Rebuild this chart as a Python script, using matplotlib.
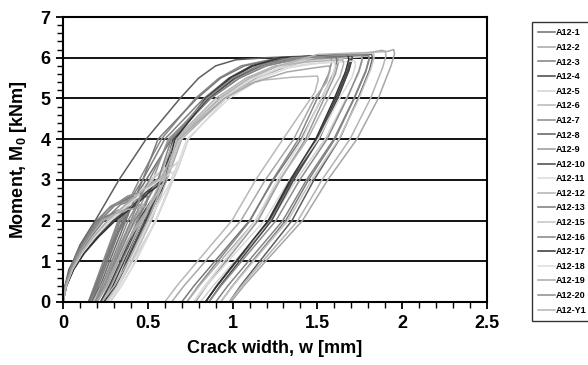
import matplotlib
matplotlib.use("Agg")
import matplotlib.pyplot as plt
from matplotlib.ticker import MultipleLocator

plt.rcParams['font.family'] = ['Liberation Sans', 'DejaVu Sans']
plt.rcParams['font.weight'] = 'bold'
plt.rcParams['mathtext.fontset'] = 'custom'
plt.rcParams['mathtext.bf'] = 'Liberation Sans:bold'
plt.rcParams['mathtext.rm'] = 'Liberation Sans:bold'

# crack width w [mm] / moment M0 [kNm], one pair per test
w_a12_1 = [0, .015, .045, .09, .15, .22, .31, .42, .41, .355, .263, .208, .17, .22, .275, .37, .43, .49,
           .64, .86, 1.02, 1.17, 1.35, 1.6, 1.70, 1.705, 1.685, 1.618, 1.506, 1.352, 1.218, 1.024, .909, .84]
m_a12_1 = [0, .4, .8, 1.2, 1.6, 2.0, 2.4, 2.6, 2.4, 2.0, 1.0, .4, 0, .4, 1.0, 2.0, 2.6, 3.0,
           4.0, 5.0, 5.5, 5.8, 5.98, 6.05, 6.08, 5.98, 5.68, 5.0, 4.0, 3.0, 2.0, 1.0, .4, 0]

w_a12_2 = [0, .018, .054, .108, .18, .264, .372, .47, .55, .62, .61, .487, .376, .306, .25, .324, .405, .52, .63,
           .70, .95, 1.14, 1.33, 1.55, 1.8, 1.88, 1.91, 1.95, 1.955, 1.934, 1.859, 1.733, 1.561, 1.412, 1.195, 1.067, .99]
m_a12_2 = [0, .4, .8, 1.2, 1.6, 2.0, 2.4, 2.75, 3.0, 3.2, 3.0, 2.0, 1.0, .4, 0, .4, 1.0, 2.0, 3.2,
           4.0, 5.0, 5.5, 5.8, 6.05, 6.12, 6.18, 6.15, 6.2, 6.1, 5.8, 5.0, 4.0, 3.0, 2.0, 1.0, .4, 0]

w_a12_3 = [0, .014, .043, .086, .143, .209, .28, .40, .39, .338, .249, .196, .16, .208, .26, .35, .41, .47,
           .60, .83, .98, 1.12, 1.30, 1.6, 1.80, 1.805, 1.785, 1.717, 1.603, 1.448, 1.313, 1.116, 1.0, .93]
m_a12_3 = [0, .4, .8, 1.2, 1.6, 2.0, 2.35, 2.6, 2.4, 2.0, 1.0, .4, 0, .4, 1.0, 2.0, 2.6, 3.0,
           4.0, 5.0, 5.5, 5.8, 5.95, 6.02, 6.05, 5.95, 5.65, 5.0, 4.0, 3.0, 2.0, 1.0, .4, 0]

w_a12_4 = [0, .02, .061, .122, .203, .297, .419, .50, .58, .57, .454, .349, .283, .23, .30, .377, .486, .59,
           .65, .84, .98, 1.11, 1.28, 1.55, 1.69, 1.695, 1.676, 1.609, 1.498, 1.346, 1.214, 1.022, .908, .84]
m_a12_4 = [0, .4, .8, 1.2, 1.6, 2.0, 2.4, 2.7, 2.95, 2.75, 2.0, 1.0, .4, 0, .4, 1.0, 2.0, 2.95,
           4.0, 5.0, 5.5, 5.8, 6.0, 6.05, 6.07, 5.97, 5.67, 5.0, 4.0, 3.0, 2.0, 1.0, .4, 0]

w_a12_5 = [0, .02, .059, .117, .195, .286, .403, .50, .59, .68, .66, .55, .41, .33, .28, .33, .40, .50, .60, .68,
           .74, .96, 1.15, 1.30, 1.5, 1.76, 1.765, 1.744, 1.67, 1.545, 1.375, 1.228, 1.013, .886, .81]
m_a12_5 = [0, .4, .8, 1.2, 1.6, 2.0, 2.4, 2.75, 3.1, 3.45, 3.2, 2.0, 1.0, .4, 0, .3, .8, 1.6, 2.5, 3.3,
           4.0, 5.0, 5.5, 5.8, 5.95, 6.02, 5.92, 5.62, 5.0, 4.0, 3.0, 2.0, 1.0, .4, 0]

w_a12_6 = [0, .017, .05, .099, .165, .242, .34, .47, .46, .354, .273, .215, .18, .25, .31, .40, .48, .57,
           .70, .80, .93, 1.05, 1.18, 1.35, 1.50, 1.505, 1.485, 1.297, 1.136, .996, .793, .672, .6]
m_a12_6 = [0, .4, .8, 1.2, 1.6, 2.0, 2.25, 2.4, 2.2, 1.5, .8, .3, 0, .4, 1.0, 1.8, 2.4, 3.0,
           4.0, 4.5, 5.0, 5.3, 5.45, 5.52, 5.55, 5.45, 5.15, 4.0, 3.0, 2.0, 1.0, .4, 0]

w_a12_7 = [0, .0135, .041, .081, .135, .198, .27, .38, .37, .325, .237, .185, .15, .196, .247, .33, .39, .45,
           .58, .78, .92, 1.05, 1.22, 1.45, 1.58, 1.585, 1.566, 1.499, 1.388, 1.236, 1.104, .912, .798, .73]
m_a12_7 = [0, .4, .8, 1.2, 1.6, 2.0, 2.3, 2.5, 2.3, 2.0, 1.0, .4, 0, .4, 1.0, 2.0, 2.5, 3.0,
           4.0, 5.0, 5.5, 5.8, 5.95, 5.98, 6.0, 5.9, 5.6, 5.0, 4.0, 3.0, 2.0, 1.0, .4, 0]

w_a12_8 = [0, .012, .035, .06, .10, .19, .26, .33, .41, .49, .59, .69, .80, .90, 1.02, 1.2, 1.5, 1.82,
           1.825, 1.806, 1.74, 1.63, 1.48, 1.35, 1.16, 1.047, .98]
m_a12_8 = [0, .4, .8, 1.0, 1.4, 2.0, 2.5, 3.0, 3.5, 4.0, 4.5, 5.0, 5.5, 5.8, 5.95, 6.0, 6.05, 6.08,
           5.98, 5.68, 5.0, 4.0, 3.0, 2.0, 1.0, .4, 0]

w_a12_9 = [0, .015, .045, .09, .15, .22, .32, .45, .44, .346, .273, .22, .19, .245, .30, .38, .46, .53,
           .62, .87, 1.04, 1.19, 1.38, 1.62, 1.625, 1.606, 1.54, 1.43, 1.28, 1.15, .96, .847, .78]
m_a12_9 = [0, .4, .8, 1.2, 1.6, 2.0, 2.25, 2.4, 2.2, 1.5, .8, .3, 0, .4, 1.0, 1.8, 2.4, 3.0,
           4.0, 5.0, 5.5, 5.8, 5.95, 6.0, 5.9, 5.6, 5.0, 4.0, 3.0, 2.0, 1.0, .4, 0]

w_a12_10 = [0, .02, .061, .122, .203, .297, .419, .49, .57, .56, .444, .339, .273, .22, .29, .367, .476, .58,
            .65, .86, 1.01, 1.15, 1.32, 1.55, 1.70, 1.705, 1.686, 1.62, 1.51, 1.36, 1.23, 1.04, .927, .86]
m_a12_10 = [0, .4, .8, 1.2, 1.6, 2.0, 2.4, 2.7, 2.95, 2.75, 2.0, 1.0, .4, 0, .4, 1.0, 2.0, 2.95,
            4.0, 5.0, 5.5, 5.8, 6.0, 6.06, 6.1, 6.0, 5.7, 5.0, 4.0, 3.0, 2.0, 1.0, .4, 0]

w_a12_11 = [0, .019, .056, .113, .188, .275, .388, .47, .54, .60, .59, .466, .363, .308, .26, .328, .403, .508, .61,
            .69, .94, 1.12, 1.28, 1.45, 1.72, 1.725, 1.704, 1.63, 1.505, 1.335, 1.188, .973, .846, .77]
m_a12_11 = [0, .4, .8, 1.2, 1.6, 2.0, 2.4, 2.8, 3.1, 3.3, 3.1, 2.0, 1.0, .4, 0, .4, 1.0, 2.0, 3.3,
            4.0, 5.0, 5.5, 5.75, 5.85, 5.92, 5.82, 5.52, 5.0, 4.0, 3.0, 2.0, 1.0, .4, 0]

w_a12_12 = [0, .016, .047, .095, .158, .231, .34, .46, .45, .356, .283, .23, .2, .255, .31, .39, .47, .56,
            .66, .90, 1.08, 1.25, 1.45, 1.65, 1.655, 1.634, 1.563, 1.442, 1.277, 1.135, .927, .804, .73]
m_a12_12 = [0, .4, .8, 1.2, 1.6, 2.0, 2.2, 2.35, 2.15, 1.5, .8, .3, 0, .4, 1.0, 1.8, 2.35, 3.0,
            4.0, 5.0, 5.5, 5.8, 5.9, 5.95, 5.85, 5.55, 5.0, 4.0, 3.0, 2.0, 1.0, .4, 0]

w_a12_13 = [0, .0135, .041, .081, .135, .198, .28, .39, .38, .299, .229, .18, .15, .20, .25, .33, .40, .47,
            .56, .79, .93, 1.07, 1.25, 1.45, 1.61, 1.615, 1.595, 1.524, 1.404, 1.241, 1.1, .895, .773, .70]
m_a12_13 = [0, .4, .8, 1.2, 1.6, 2.0, 2.15, 2.3, 2.1, 1.5, .8, .3, 0, .4, 1.0, 1.8, 2.3, 3.0,
            4.0, 5.0, 5.5, 5.8, 5.97, 6.0, 6.02, 5.92, 5.62, 5.0, 4.0, 3.0, 2.0, 1.0, .4, 0]

w_a12_15 = [0, .018, .054, .108, .18, .264, .372, .47, .55, .62, .61, .472, .361, .302, .25, .324, .405, .52, .63,
            .69, .92, 1.10, 1.27, 1.5, 1.7, 1.83, 1.835, 1.815, 1.745, 1.627, 1.466, 1.326, 1.123, 1.002, .93]
m_a12_15 = [0, .4, .8, 1.2, 1.6, 2.0, 2.4, 2.75, 3.1, 3.3, 3.1, 2.0, 1.0, .4, 0, .4, 1.0, 2.0, 3.3,
            4.0, 5.0, 5.5, 5.8, 6.02, 6.08, 6.12, 6.02, 5.72, 5.0, 4.0, 3.0, 2.0, 1.0, .4, 0]

w_a12_16 = [0, .017, .05, .099, .165, .242, .341, .50, .49, .422, .311, .245, .2, .26, .326, .44, .51, .56,
            .64, .87, 1.04, 1.2, 1.4, 1.65, 1.80, 1.805, 1.785, 1.715, 1.597, 1.436, 1.296, 1.093, .972, .9]
m_a12_16 = [0, .4, .8, 1.2, 1.6, 2.0, 2.4, 2.6, 2.4, 2.0, 1.0, .4, 0, .4, 1.0, 2.0, 2.6, 3.0,
            4.0, 5.0, 5.5, 5.8, 6.0, 6.05, 6.08, 5.98, 5.68, 5.0, 4.0, 3.0, 2.0, 1.0, .4, 0]

w_a12_17 = [0, .021, .063, .126, .21, .308, .434, .51, .59, .58, .464, .359, .293, .24, .31, .387, .496, .60,
            .66, .85, .99, 1.12, 1.28, 1.52, 1.68, 1.685, 1.666, 1.60, 1.49, 1.34, 1.21, 1.02, .907, .84]
m_a12_17 = [0, .4, .8, 1.2, 1.6, 2.0, 2.4, 2.7, 2.95, 2.75, 2.0, 1.0, .4, 0, .4, 1.0, 2.0, 2.95,
            4.0, 5.0, 5.5, 5.8, 6.0, 6.04, 6.06, 5.96, 5.66, 5.0, 4.0, 3.0, 2.0, 1.0, .4, 0]

w_a12_18 = [0, .019, .056, .113, .188, .275, .388, .49, .57, .65, .64, .508, .392, .327, .27, .346, .43, .547, .66,
            .73, .98, 1.17, 1.33, 1.48, 1.60, 1.605, 1.586, 1.521, 1.412, 1.264, 1.135, .948, .836, .77]
m_a12_18 = [0, .4, .8, 1.2, 1.6, 2.0, 2.4, 2.75, 3.0, 3.2, 3.0, 2.0, 1.0, .4, 0, .4, 1.0, 2.0, 3.2,
            4.0, 5.0, 5.5, 5.75, 5.85, 5.9, 5.8, 5.5, 5.0, 4.0, 3.0, 2.0, 1.0, .4, 0]

w_a12_19 = [0, .016, .047, .095, .158, .231, .35, .50, .49, .38, .296, .236, .2, .26, .326, .42, .51, .58,
            .68, .95, 1.13, 1.32, 1.48, 1.57, 1.575, 1.554, 1.482, 1.36, 1.193, 1.049, .839, .714, .64]
m_a12_19 = [0, .4, .8, 1.2, 1.6, 2.0, 2.25, 2.35, 2.15, 1.5, .8, .3, 0, .4, 1.0, 1.8, 2.35, 3.0,
            4.0, 5.0, 5.4, 5.65, 5.75, 5.8, 5.7, 5.4, 5.0, 4.0, 3.0, 2.0, 1.0, .4, 0]

w_a12_20 = [0, .015, .045, .09, .15, .22, .31, .38, .46, .45, .384, .287, .23, .19, .244, .303, .40, .47, .51,
            .63, .85, 1.0, 1.15, 1.35, 1.6, 1.76, 1.765, 1.745, 1.675, 1.557, 1.396, 1.256, 1.053, .932, .86]
m_a12_20 = [0, .4, .8, 1.2, 1.6, 2.0, 2.4, 2.6, 2.7, 2.5, 2.0, 1.0, .4, 0, .4, 1.0, 2.0, 2.7, 3.0,
            4.0, 5.0, 5.5, 5.8, 6.0, 6.05, 6.08, 5.98, 5.68, 5.0, 4.0, 3.0, 2.0, 1.0, .4, 0]

w_a12_y1 = [0, .018, .054, .108, .18, .264, .372, .47, .60, .59, .466, .352, .286, .23, .304, .385, .50, .61,
            .67, .92, 1.10, 1.27, 1.5, 1.75, 1.90, 1.905, 1.884, 1.813, 1.692, 1.527, 1.385, 1.177, 1.054, .98]
m_a12_y1 = [0, .4, .8, 1.2, 1.6, 2.0, 2.4, 2.75, 3.1, 2.9, 2.0, 1.0, .4, 0, .4, 1.0, 2.0, 3.1,
            4.0, 5.0, 5.5, 5.8, 6.08, 6.12, 6.15, 6.05, 5.75, 5.0, 4.0, 3.0, 2.0, 1.0, .4, 0]

names = ["A12-1", "A12-2", "A12-3", "A12-4", "A12-5", "A12-6", "A12-7", "A12-8", "A12-9", "A12-10",
         "A12-11", "A12-12", "A12-13", "A12-15", "A12-16", "A12-17", "A12-18", "A12-19", "A12-20", "A12-Y1"]
w_all = [w_a12_1, w_a12_2, w_a12_3, w_a12_4, w_a12_5, w_a12_6, w_a12_7, w_a12_8, w_a12_9, w_a12_10,
         w_a12_11, w_a12_12, w_a12_13, w_a12_15, w_a12_16, w_a12_17, w_a12_18, w_a12_19, w_a12_20, w_a12_y1]
m_all = [m_a12_1, m_a12_2, m_a12_3, m_a12_4, m_a12_5, m_a12_6, m_a12_7, m_a12_8, m_a12_9, m_a12_10,
         m_a12_11, m_a12_12, m_a12_13, m_a12_15, m_a12_16, m_a12_17, m_a12_18, m_a12_19, m_a12_20, m_a12_y1]
greys = ["#6e6e6e", "#a6a6a6", "#808080", "#444444", "#d2d2d2", "#b8b8b8", "#8a8a8a", "#5e5e5e", "#999999", "#464646",
         "#dadada", "#b2b2b2", "#7a7a7a", "#c4c4c4", "#848484", "#333333", "#dcdcdc", "#a8a8a8", "#8c8c8c", "#b4b4b4"]

fig = plt.figure(figsize=(5.88, 3.65), dpi=100)
ax = fig.add_axes([63/588, 1-302/365, 424/588, 285/365])

# grid lines behind the curves
for yg in range(1, 7):
    ax.axhline(yg, color='black', lw=1.3, zorder=1)

for nm, ww, mm, cc in zip(names, w_all, m_all, greys):
    ax.plot(ww, mm, color=cc, lw=1.1, label=nm, zorder=2, solid_joinstyle='round')

ax.set_xlim(0, 2.5)
ax.set_ylim(0, 7)
ax.set_xticks([0, 0.5, 1, 1.5, 2, 2.5])
ax.set_xticklabels(["0", "0.5", "1", "1.5", "2", "2.5"])
ax.set_yticks(range(0, 8))
ax.xaxis.set_minor_locator(MultipleLocator(0.1))
ax.yaxis.set_minor_locator(MultipleLocator(0.2))
ax.tick_params(which='major', length=5, width=1.3, labelsize=13, pad=4)
ax.tick_params(which='minor', length=4, width=1.0)
for sp in ax.spines.values():
    sp.set_linewidth(1.5)

ax.set_xlabel("Crack width, w [mm]", fontsize=13, fontweight='bold', labelpad=6)
ax.set_ylabel(r"Moment, M$_\mathbf{0}$ [kNm]", fontsize=13, fontweight='bold', labelpad=8)

leg = ax.legend(loc='upper left', bbox_to_anchor=(532/588, 1-22/365), bbox_transform=fig.transFigure,
                fontsize=6.5, frameon=True, fancybox=False, edgecolor='black', handlelength=1.8,
                handletextpad=0.15, labelspacing=0.62, borderpad=0.7, borderaxespad=0)
leg.get_frame().set_linewidth(1.0)

fig.savefig("out.png", dpi=100)
